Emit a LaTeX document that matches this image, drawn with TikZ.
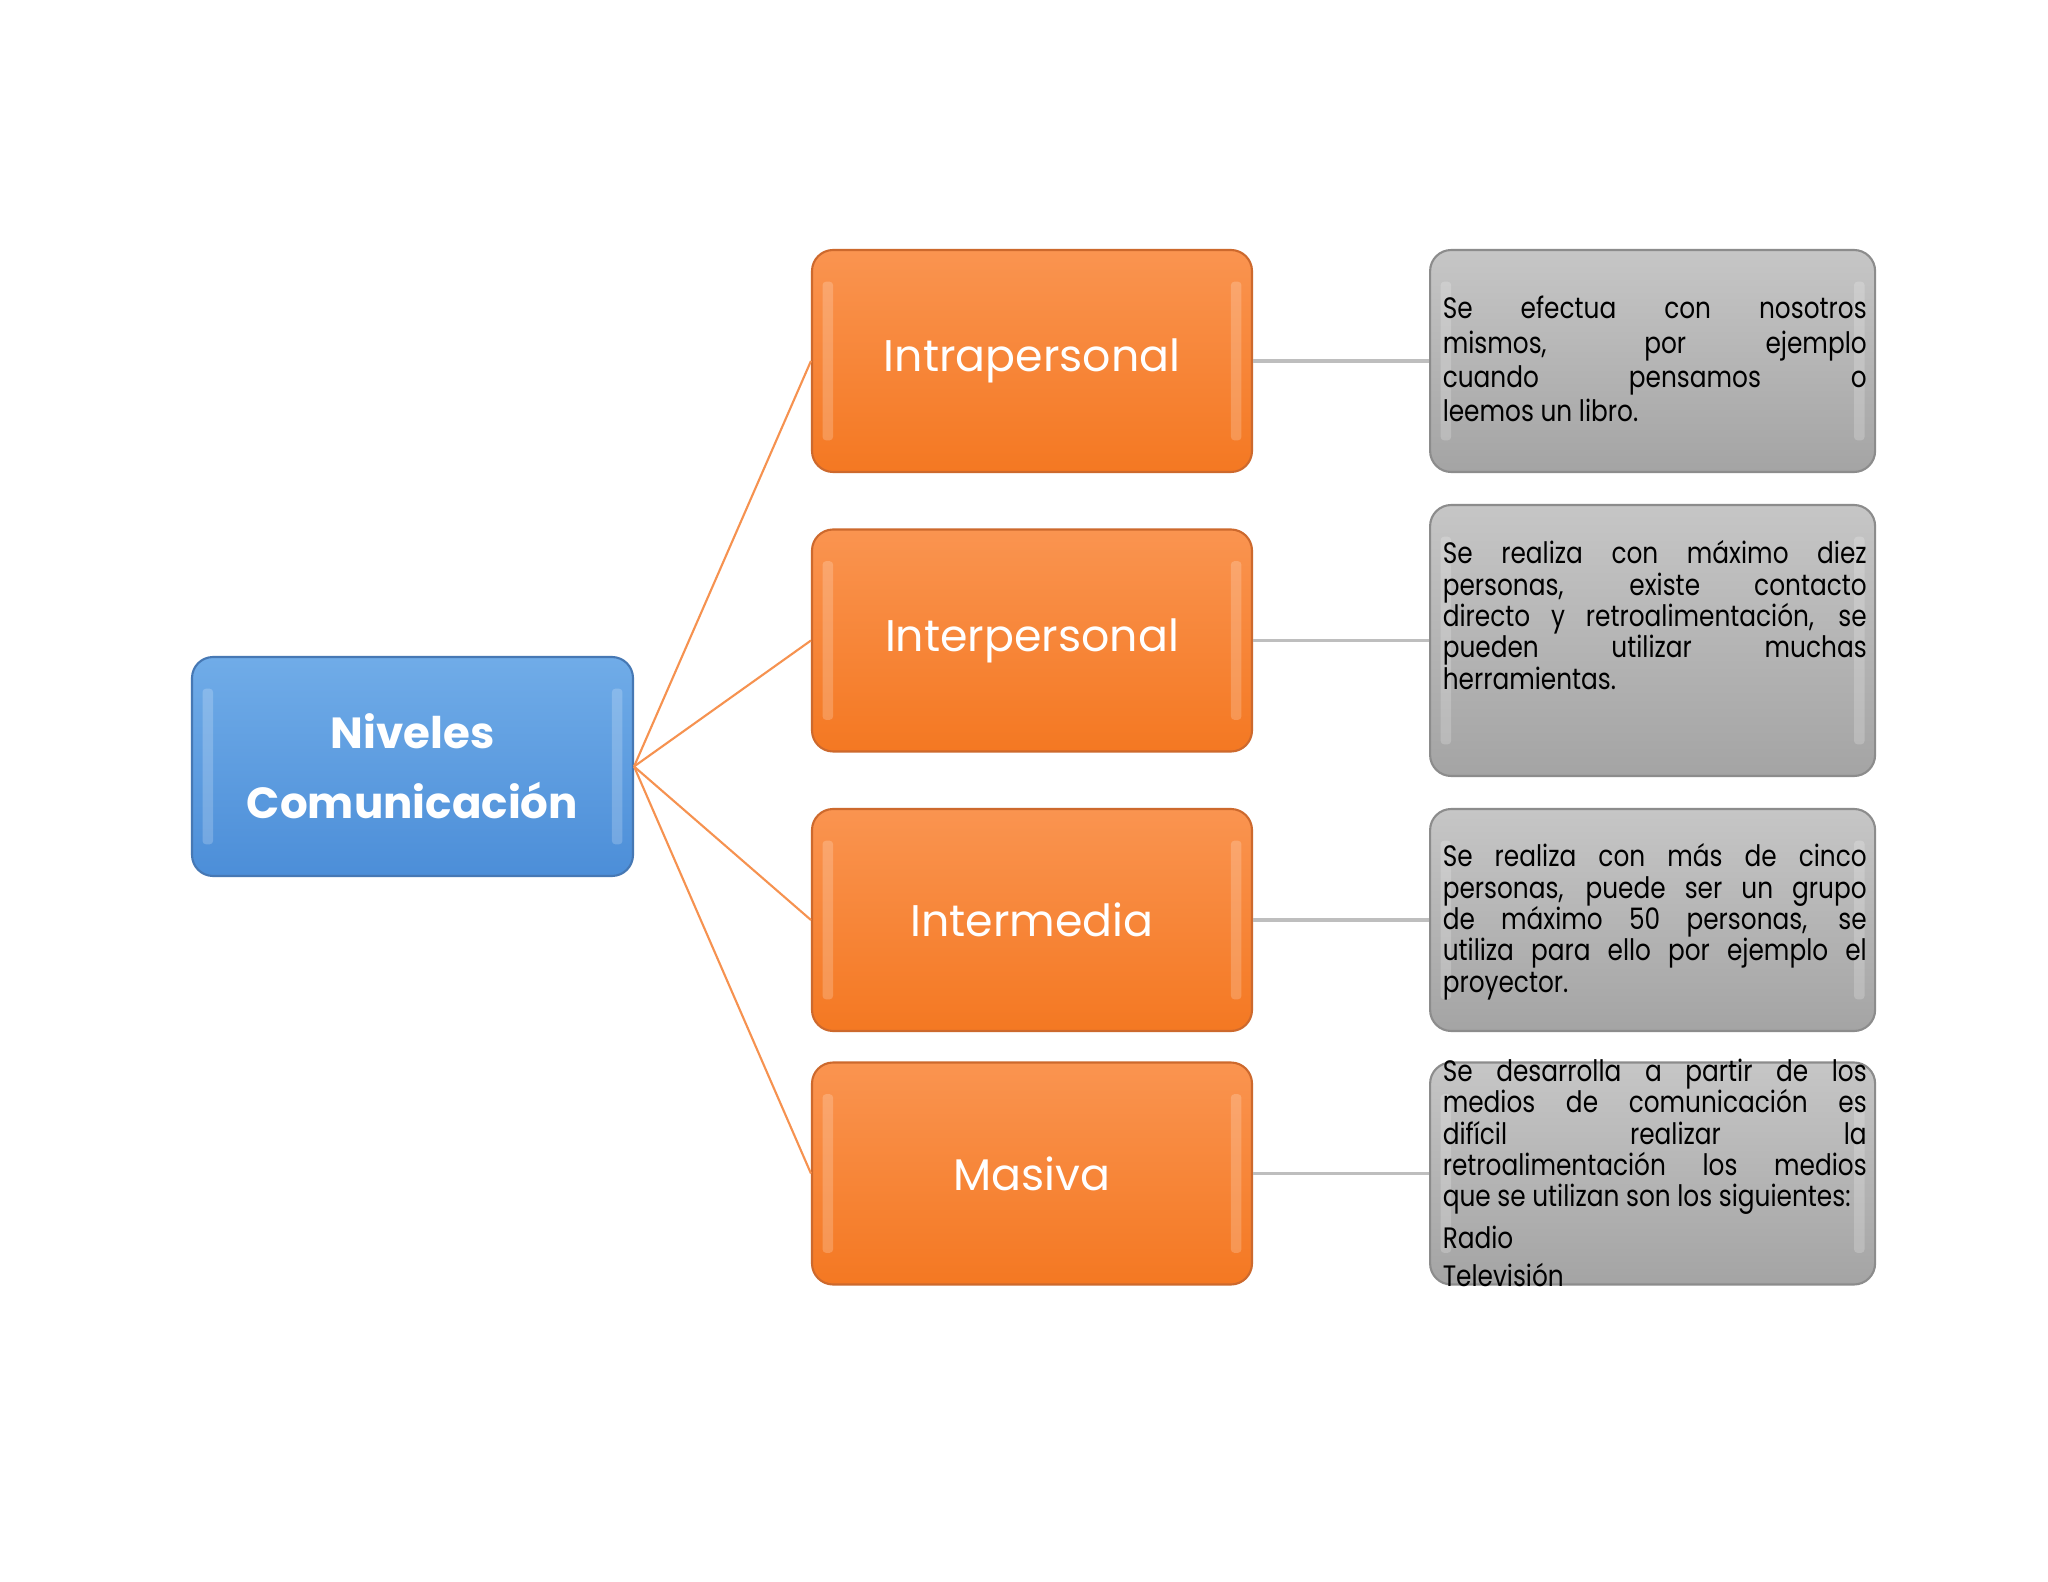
\documentclass[tikz,border=0pt]{standalone}
\usepackage{fontspec}
\setmainfont{Poppins}
\newfontfamily\descfont[FakeStretch=0.84]{Poppins}
\usetikzlibrary{positioning}

\definecolor{niveltop}{RGB}{112,172,232}
\definecolor{nivelbot}{RGB}{76,142,216}
\definecolor{nivelborde}{RGB}{70,120,180}
\definecolor{tipotop}{RGB}{250,148,80}
\definecolor{tipobot}{RGB}{244,120,34}
\definecolor{tipoborde}{RGB}{205,105,45}
\definecolor{desctop}{RGB}{198,198,198}
\definecolor{descbot}{RGB}{164,164,164}
\definecolor{descborde}{RGB}{140,140,140}
\definecolor{ramacolor}{RGB}{246,146,80}
\definecolor{enlacecolor}{RGB}{190,190,190}

\begin{document}
\begin{tikzpicture}[
  box/.style={draw, rounded corners=6pt, line width=0.6pt, minimum width=4.4cm, minimum height=2.22cm, inner sep=0pt},
  brillo/.style={path picture={
    \fill[white,opacity=.2,rounded corners=1pt] ([shift={(3pt,-9pt)}]path picture bounding box.north west) rectangle ([shift={(6pt,9pt)}]path picture bounding box.south west);
    \fill[white,opacity=.2,rounded corners=1pt] ([shift={(-6pt,-9pt)}]path picture bounding box.north east) rectangle ([shift={(-3pt,9pt)}]path picture bounding box.south east);}},
  nivel/.style={box, brillo, draw=nivelborde, top color=niveltop, bottom color=nivelbot, text=white, align=center,
    font=\bfseries\fontsize{12.4}{20}\selectfont, minimum width=4.41cm, minimum height=2.19cm},
  tipo/.style={box, brillo, draw=tipoborde, top color=tipotop, bottom color=tipobot, text=white, font=\fontsize{12.6}{16}\selectfont},
  desc/.style={box, brillo, draw=descborde, top color=desctop, bottom color=descbot, minimum width=4.45cm},
  txt/.style={anchor=base west, inner sep=0pt, text width=4.24cm, align=justify,
    font=\descfont\fontsize{8.4}{8.9}\selectfont},
  rama/.style={draw=ramacolor, line width=0.6pt},
  enlace/.style={draw=enlacecolor, line width=0.9pt}]
  \useasboundingbox[fill=white] (0,0) rectangle (20.48,-15.82);

  \node[nivel] (nivel) at (4.125,-7.665) {Niveles\\Comunicación};
  \node[tipo] (intra) at (10.32,-3.61) {Intrapersonal};
  \node[tipo] (inter) at (10.32,-6.405) {Interpersonal};
  \node[tipo] (medi) at (10.32,-9.20) {Intermedia};
  \node[tipo] (masiva) at (10.32,-11.735) {Masiva};

  \node[desc, right=1.76cm of intra] (dintra) {};
  \node[desc, right=1.76cm of inter, minimum height=2.71cm] (dinter) {};
  \node[desc, right=1.76cm of medi] (dmedi) {};
  \node[desc, right=1.76cm of masiva] (dmasiva) {};

  \node[txt, font=\descfont\fontsize{8.4}{9.7}\selectfont] (tintra) at ([shift={(0.13,-0.70)}]dintra.north west)
    {Se efectua con nosotros\linebreak mismos, por ejemplo\linebreak cuando pensamos o\linebreak leemos un libro.};
  \node[txt] (tinter) at ([shift={(0.13,-0.60)}]dinter.north west)
    {Se realiza con máximo diez\linebreak personas, existe contacto\linebreak directo y retroalimentación, se\linebreak pueden utilizar muchas\linebreak herramientas.};
  \node[txt] (tmedi) at ([shift={(0.13,-0.59)}]dmedi.north west)
    {Se realiza con más de cinco\linebreak personas, puede ser un grupo\linebreak de máximo 50 personas, se\linebreak utiliza para ello por ejemplo el\linebreak proyector.};
  \node[txt] (tmasiva) at ([shift={(0.13,-0.20)}]dmasiva.north west)
    {Se desarrolla a partir de los\linebreak medios de comunicación es\linebreak difícil realizar la\linebreak retroalimentación los medios\linebreak que se utilizan son los siguientes:\par\vspace{3pt}
     Radio\par\vspace{2pt}Televisión};

  \foreach \t in {intra, inter, medi, masiva} {\draw[rama] (nivel.east) -- (\t.west);}
  \foreach \a/\b in {intra/dintra, inter/dinter, medi/dmedi, masiva/dmasiva} {\draw[enlace] (\a.east) -- (\b.west);}
\end{tikzpicture}
\end{document}
